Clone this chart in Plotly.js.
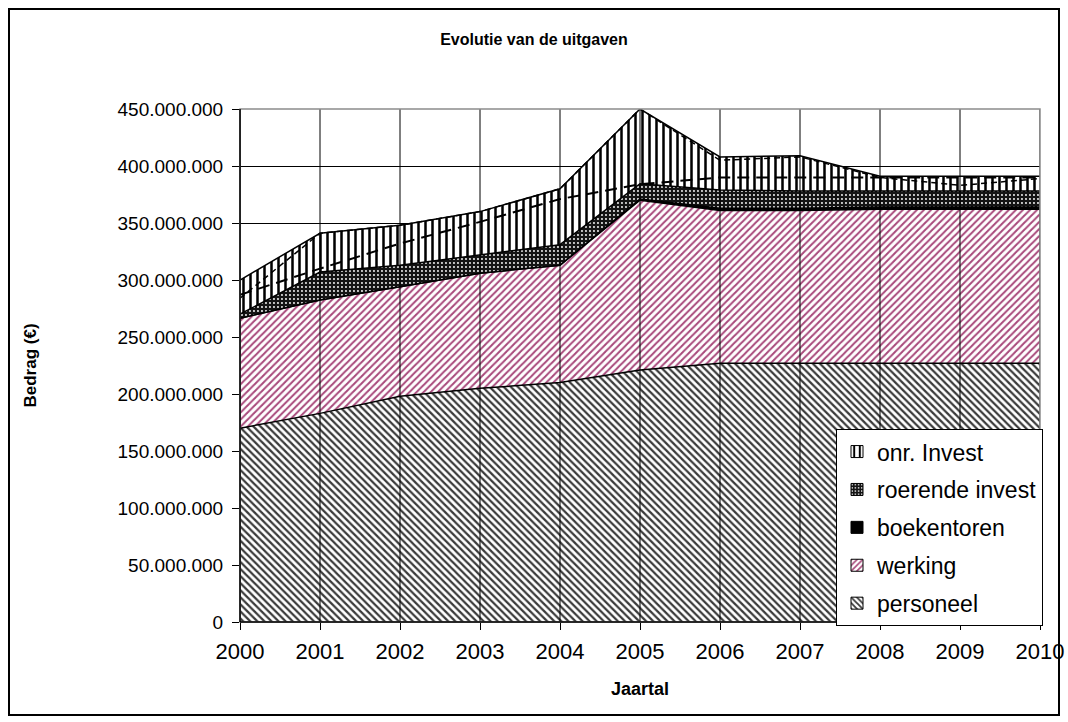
<!DOCTYPE html>
<html>
<head>
<meta charset="utf-8">
<script src="https://cdn.plot.ly/plotly-3.0.1.min.js"></script>
<style>
  html, body { margin: 0; padding: 0; background: #fff; }
  #chart { width: 1068px; height: 722px; position: relative; }
  #frame { position: absolute; left: 8px; top: 8px; width: 1048px; height: 704px;
           border: 2px solid #000; pointer-events: none; }
</style>
</head>
<body>
<div id="chart"></div>
<div id="frame"></div>
<script>
// ---- data (euro) ----
const years = [2000, 2001, 2002, 2003, 2004, 2005, 2006, 2007, 2008, 2009, 2010];
const personeel = [170000000, 183000000, 198000000, 205000000, 210000000, 221000000, 227000000, 227000000, 227000000, 227000000, 227000000];
const werking = [96500000, 99500000, 96000000, 101000000, 103000000, 149000000, 134000000, 134000000, 135000000, 135000000, 135000000];
const boekentoren = [0, 0, 0, 0, 0, 1000000, 2000000, 2000000, 2000000, 2000000, 2000000];
const roerendeInvest = [3500000, 24500000, 19000000, 16000000, 18000000, 13500000, 16000000, 15000000, 14000000, 14000000, 14000000];
const onrInvest = [30000000, 34000000, 35000000, 38000000, 49000000, 65500000, 29000000, 31000000, 13000000, 13000000, 13000000];
const trendLijn = [287000000, 310000000, 332000000, 351000000, 371000000, 384000000, 390000000, 390000000, 390000000, 390000000, 390000000];
const totaalLijn = [284000000, 341000000, 348000000, 360000000, 380000000, 450000000, 405000000, 408000000, 390000000, 383000000, 389000000];
const yTicks = [0, 50000000, 100000000, 150000000, 200000000, 250000000, 300000000, 350000000, 400000000, 450000000];

const FONT = 'Liberation Sans, Arial, sans-serif';
const edge = {color: '#000', width: 1.5};

const styles = {
  personeel: {shape: '\\', fgcolor: '#3a3a3a', bgcolor: '#ffffff', size: 5, solidity: 0.45},
  werking: {shape: '/', fgcolor: '#a8497b', bgcolor: '#ffffff', size: 5, solidity: 0.4},
  roerende: {shape: '.', fgcolor: '#ffffff', bgcolor: '#141414', size: 4, solidity: 0.18},
  onr: {shape: '|', fgcolor: '#000000', bgcolor: '#ffffff', size: 7, solidity: 0.36}
};

function area(name, y, st, solidFill) {
  const t = {
    type: 'scatter', mode: 'lines', x: years, y: y, name: name,
    stackgroup: 'one', line: edge, showlegend: false, hoverinfo: 'skip'
  };
  if (solidFill) { t.fillcolor = solidFill; }
  else { t.fillcolor = '#ffffff'; t.fillpattern = st; }
  return t;
}
function legendBar(name, st, solidFill) {
  const m = {line: {color: '#000', width: 1}};
  if (solidFill) m.color = solidFill;
  else { m.color = st.bgcolor; m.pattern = {shape: st.shape, fgcolor: st.fgcolor, bgcolor: st.bgcolor, size: st.size, solidity: st.solidity}; }
  return {type: 'bar', x: [null], y: [null], name: name, legendgroup: name, marker: m, showlegend: true, hoverinfo: 'skip'};
}

const traces = [
  area('personeel', personeel, styles.personeel),
  area('werking', werking, styles.werking),
  area('boekentoren', boekentoren, null, '#000000'),
  area('roerende invest', roerendeInvest, styles.roerende),
  area('onr. Invest', onrInvest, styles.onr),
  {type: 'scatter', mode: 'lines', x: years, y: totaalLijn, showlegend: false, hoverinfo: 'skip',
   line: {color: '#000', width: 1.5, dash: '6px,4px'}},
  {type: 'scatter', mode: 'lines', x: years, y: trendLijn, showlegend: false, hoverinfo: 'skip',
   line: {color: '#000', width: 2, dash: '12px,7px'}},
  legendBar('onr. Invest', styles.onr),
  legendBar('roerende invest', styles.roerende),
  legendBar('boekentoren', null, '#000000'),
  legendBar('werking', styles.werking),
  legendBar('personeel', styles.personeel)
];

const shapes = years.map(function (yr) {
  return {type: 'line', xref: 'x', yref: 'paper', x0: yr, x1: yr, y0: 0, y1: 1,
          line: {color: '#000', width: 1}, layer: 'above'};
});
shapes.push({type: 'rect', xref: 'paper', yref: 'paper', x0: 0, x1: 1, y0: 0, y1: 1,
             line: {color: '#8c8c8c', width: 1.5}, layer: 'above'});
shapes.push({type: 'line', xref: 'paper', yref: 'paper', x0: 0, x1: 0, y0: 0, y1: 1,
             line: {color: '#000', width: 1.5}, layer: 'above'});
shapes.push({type: 'line', xref: 'paper', yref: 'paper', x0: 0, x1: 1, y0: 0, y1: 0,
             line: {color: '#000', width: 1.5}, layer: 'above'});

const layout = {
  width: 1068, height: 722,
  paper_bgcolor: '#ffffff', plot_bgcolor: '#ffffff',
  separators: ',.',
  font: {family: FONT, color: '#000', size: 19},
  margin: {l: 240, r: 28, t: 109, b: 100},
  title: {text: '<b>Evolutie van de uitgaven</b>', font: {family: FONT, size: 16, color: '#000'},
          x: 0.5, xref: 'container', xanchor: 'center', y: 0.945, yref: 'container', yanchor: 'middle'},
  xaxis: {
    type: 'linear', range: [2000, 2010], tickvals: years, ticktext: years.map(String),
    showgrid: false, zeroline: false, showline: false,
    ticks: 'outside', ticklen: 7, tickcolor: '#000', tickwidth: 1, ticklabelstandoff: 3,
    tickfont: {family: FONT, size: 22, color: '#000'},
    title: {text: '<b>Jaartal</b>', font: {family: FONT, size: 18, color: '#000'}, standoff: 18}
  },
  yaxis: {
    range: [0, 450000000], tickvals: yTicks, tickformat: ',.0f',
    showgrid: true, gridcolor: '#000', gridwidth: 1, zeroline: false, showline: false,
    ticks: 'outside', ticklen: 7, tickcolor: '#000', tickwidth: 1, ticklabelstandoff: 5,
    tickfont: {family: FONT, size: 19, color: '#000'},
    title: {text: '<b>Bedrag (€)</b>', font: {family: FONT, size: 17, color: '#000'}, standoff: 76}
  },
  barmode: 'overlay',
  legend: {
    x: 0.745, xanchor: 'left', y: 0.376, yanchor: 'top',
    bgcolor: '#ffffff', bordercolor: '#000', borderwidth: 1,
    font: {family: FONT, size: 23, color: '#000'},
    traceorder: 'grouped', tracegroupgap: 5, itemwidth: 30
  },
  shapes: shapes,
  showlegend: true
};

Plotly.newPlot('chart', traces, layout, {displayModeBar: false, staticPlot: true});
</script>
</body>
</html>
